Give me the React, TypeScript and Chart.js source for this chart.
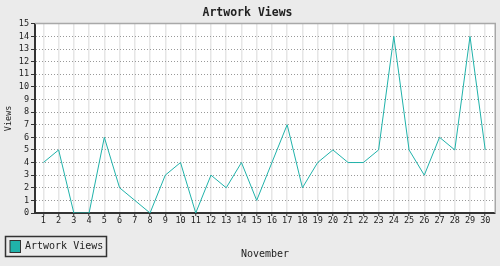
import React, { useEffect, useRef } from "react";
import { Chart, registerables } from "chart.js";

Chart.register(...registerables);

const days = [1, 2, 3, 4, 5, 6, 7, 8, 9, 10, 11, 12, 13, 14, 15, 16, 17, 18, 19, 20, 21, 22, 23, 24, 25, 26, 27, 28, 29, 30];
const views = [4, 5, 0, 0, 6, 2, 1, 0, 3, 4, 0, 3, 2, 4, 1, 4, 7, 2, 4, 5, 4, 4, 5, 14, 5, 3, 6, 5, 14, 5];
const yTicks = [0, 1, 2, 3, 4, 5, 6, 7, 8, 9, 10, 11, 12, 13, 14, 15];
const titleText = "Artwork Views";
const seriesLabel = "Artwork Views";
const xTitle = "November";
const yTitle = "Views";

const FONT = "'DejaVu Sans Mono', monospace";
const LINE_COLOR = "#20b2aa";

const framePlugin = {
  id: "frame",
  beforeDraw(chart: any) {
    const { ctx, width, height, chartArea } = chart;
    ctx.save();
    ctx.fillStyle = "#ebebeb";
    ctx.fillRect(0, 0, width, height);
    ctx.fillStyle = "#ffffff";
    ctx.fillRect(chartArea.left, chartArea.top, chartArea.right - chartArea.left, chartArea.bottom - chartArea.top);
    ctx.restore();
  },
  afterDraw(chart: any) {
    const { ctx, chartArea } = chart;
    ctx.save();
    ctx.strokeStyle = "#a8a8a8";
    ctx.lineWidth = 1.5;
    ctx.beginPath();
    ctx.moveTo(chartArea.left, chartArea.top - 0.25);
    ctx.lineTo(chartArea.right + 0.25, chartArea.top - 0.25);
    ctx.lineTo(chartArea.right + 0.25, chartArea.bottom);
    ctx.stroke();
    const label = chart.data.datasets[0].label;
    const bx = 5.5, by = 236.5, bw = 101, bh = 20;
    ctx.strokeStyle = "#333333";
    ctx.lineWidth = 1.5;
    ctx.strokeRect(bx, by, bw, bh);
    ctx.fillStyle = LINE_COLOR;
    ctx.fillRect(10, 240.5, 10.5, 12);
    ctx.lineWidth = 1;
    ctx.strokeStyle = "#333333";
    ctx.strokeRect(10, 240.5, 10.5, 12);
    ctx.fillStyle = "#222222";
    ctx.font = `10px ${FONT}`;
    ctx.textBaseline = "middle";
    ctx.textAlign = "left";
    ctx.fillText(label, 25, 246.5);
    ctx.restore();
  },
};

export default function App() {
  const ref = useRef<HTMLCanvasElement | null>(null);

  useEffect(() => {
    document.body.style.margin = "0";
    const canvas = ref.current;
    if (!canvas) return;
    const chart = new Chart(canvas, {
      type: "line",
      data: {
        datasets: [
          {
            label: seriesLabel,
            data: days.map((d, i) => ({ x: d, y: views[i] })),
            borderColor: LINE_COLOR,
            backgroundColor: LINE_COLOR,
            borderWidth: 1,
            pointRadius: 0,
            tension: 0,
            fill: false,
          },
        ],
      },
      options: {
        responsive: false,
        animation: false,
        layout: { padding: { left: 0, right: 5, top: 0, bottom: 0 } },
        plugins: {
          legend: { display: false },
          tooltip: { enabled: false },
          title: {
            display: true,
            text: titleText,
            color: "#222222",
            font: { family: FONT, size: 11.5, weight: "bold" },
            padding: { top: 6, bottom: 4 },
          },
        },
        scales: {
          x: {
            type: "linear",
            min: 0.45,
            max: 30.64,
            afterBuildTicks: (axis: any) => {
              axis.ticks = days.map((v) => ({ value: v }));
            },
            afterFit: (scale: any) => {
              scale.height = 53;
            },
            ticks: {
              autoSkip: false,
              maxRotation: 0,
              padding: 0,
              color: "#222222",
              font: { family: FONT, size: 8.5 },
              callback: (v: any) => String(v),
            },
            grid: {
              color: "#e6e6e6",
              lineWidth: 1.5,
              tickColor: "#333333",
              tickWidth: 1,
              tickLength: 3,
              tickBorderDash: [],
            },
            border: { color: "#333333", width: 2 },
            title: {
              display: true,
              text: xTitle,
              color: "#222222",
              font: { family: FONT, size: 10 },
              padding: { top: 0, bottom: 6 },
            },
          },
          y: {
            type: "linear",
            min: 0,
            max: 15,
            afterBuildTicks: (axis: any) => {
              axis.ticks = yTicks.map((v) => ({ value: v }));
            },
            afterFit: (scale: any) => {
              scale.width = 35;
            },
            ticks: {
              autoSkip: false,
              padding: 2,
              color: "#222222",
              font: { family: FONT, size: 8.5 },
            },
            grid: {
              color: "#999999",
              lineWidth: 1,
              tickColor: "#333333",
              tickLength: 4,
              tickBorderDash: [],
            },
            border: { color: "#333333", width: 2, dash: [1, 2] },
            title: {
              display: true,
              text: yTitle,
              color: "#222222",
              font: { family: FONT, size: 8.5 },
              padding: { top: 4, bottom: 0 },
            },
          },
        },
      },
      plugins: [framePlugin],
    } as any);
    return () => chart.destroy();
  }, []);

  return (
    <div style={{ width: 500, height: 266 }}>
      <canvas ref={ref} width={500} height={266} style={{ display: "block" }} />
    </div>
  );
}
